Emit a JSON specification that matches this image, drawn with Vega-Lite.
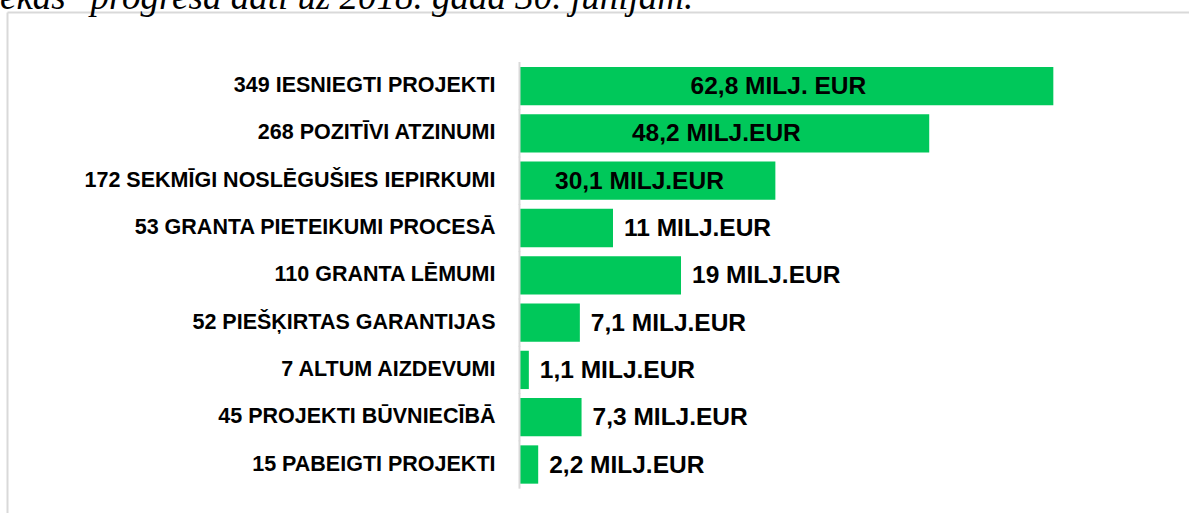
{
  "$schema": "https://vega.github.io/schema/vega-lite/v6.json",
  "width": 1182,
  "height": 501,
  "autosize": {"type": "none"},
  "padding": {"left": 7, "top": 12, "right": 0, "bottom": 0},
  "background": "white",
  "config": {"view": {"stroke": null}, "font": "Liberation Sans"},
  "title": {
    "text": "ēkas\" progresā dati uz 2018. gada 30. jūnijam.",
    "anchor": "start",
    "frame": "group",
    "font": "Liberation Serif",
    "fontStyle": "italic",
    "fontWeight": "normal",
    "fontSize": 37,
    "color": "#000000",
    "baseline": "alphabetic",
    "offset": 0,
    "dx": -7,
    "dy": 34
  },
  "data": {
    "values": [
      {"stage": "349 IESNIEGTI PROJEKTI", "amount": 62.8, "label": "62,8 MILJ. EUR"},
      {"stage": "268 POZITĪVI ATZINUMI", "amount": 48.2, "label": "48,2 MILJ.EUR"},
      {"stage": "172 SEKMĪGI NOSLĒGUŠIES IEPIRKUMI", "amount": 30.1, "label": "30,1 MILJ.EUR"},
      {"stage": "53 GRANTA PIETEIKUMI PROCESĀ", "amount": 11, "label": "11 MILJ.EUR"},
      {"stage": "110 GRANTA LĒMUMI", "amount": 19, "label": "19 MILJ.EUR"},
      {"stage": "52 PIEŠĶIRTAS GARANTIJAS", "amount": 7.1, "label": "7,1 MILJ.EUR"},
      {"stage": "7 ALTUM AIZDEVUMI", "amount": 1.1, "label": "1,1 MILJ.EUR"},
      {"stage": "45 PROJEKTI BŪVNIECĪBĀ", "amount": 7.3, "label": "7,3 MILJ.EUR"},
      {"stage": "15 PABEIGTI PROJEKTI", "amount": 2.2, "label": "2,2 MILJ.EUR"}
    ]
  },
  "layer": [
    {
      "mark": {"type": "bar", "color": "#00C85A"},
      "encoding": {
        "x": {
          "field": "amount",
          "type": "quantitative",
          "scale": {"domain": [-60.29, 78.76], "nice": false, "zero": false},
          "axis": {"orient": "top", "title": null, "labels": false, "ticks": false, "grid": false, "domainColor": "#d9d9d9", "domainWidth": 2}
        },
        "y": {
          "field": "stage",
          "type": "nominal",
          "sort": null,
          "scale": {"paddingInner": 0.19, "paddingOuter": 0.891, "align": 0.652},
          "axis": {
            "orient": "left",
            "offset": -512,
            "title": null,
            "domain": false,
            "ticks": false,
            "grid": false,
            "labelPadding": 24,
            "labelFont": "Liberation Sans",
            "labelFontWeight": "bold",
            "labelFontSize": 21.5,
            "labelColor": "#000000",
            "labelLimit": 0
          }
        }
      }
    },
    {
      "mark": {"type": "rule", "color": "#d9d9d9", "strokeWidth": 2},
      "encoding": {
        "x": {"datum": 0, "type": "quantitative", "axis": {"orient": "top", "title": null, "labels": false, "ticks": false, "grid": false, "domainColor": "#d9d9d9", "domainWidth": 2}},
        "y": {
          "field": "stage",
          "type": "nominal",
          "sort": null,
          "bandPosition": -0.13,
          "axis": {"orient": "left", "offset": 0, "title": null, "labels": false, "ticks": false, "grid": false, "domainColor": "#d9d9d9", "domainWidth": 2}
        },
        "y2": {"field": "stage", "bandPosition": 1.13}
      }
    },
    {
      "transform": [{"filter": "datum.amount >= 25"}, {"calculate": "datum.amount / 2", "as": "mid"}],
      "mark": {"type": "text", "align": "center", "baseline": "middle", "dx": -8, "dy": 1, "font": "Liberation Sans", "fontWeight": "bold", "fontSize": 24.5, "color": "#000000"},
      "encoding": {
        "x": {"field": "mid", "type": "quantitative", "axis": {"orient": "top", "title": null, "labels": false, "ticks": false, "grid": false, "domainColor": "#d9d9d9", "domainWidth": 2}},
        "y": {"field": "stage", "type": "nominal", "sort": null, "axis": null},
        "text": {"field": "label"}
      }
    },
    {
      "transform": [{"filter": "datum.amount < 25"}],
      "mark": {"type": "text", "align": "left", "baseline": "middle", "dx": 11, "dy": 1, "font": "Liberation Sans", "fontWeight": "bold", "fontSize": 24.5, "color": "#000000"},
      "encoding": {
        "x": {"field": "amount", "type": "quantitative", "axis": {"orient": "top", "title": null, "labels": false, "ticks": false, "grid": false, "domainColor": "#d9d9d9", "domainWidth": 2}},
        "y": {"field": "stage", "type": "nominal", "sort": null, "axis": null},
        "text": {"field": "label"}
      }
    }
  ],
  "resolve": {"axis": {"y": "independent"}}
}
